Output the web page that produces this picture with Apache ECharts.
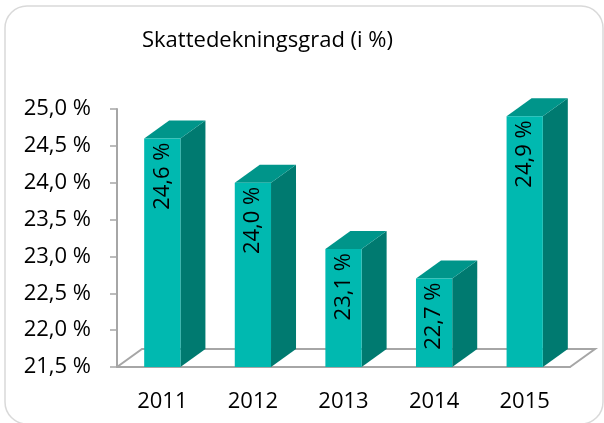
<!DOCTYPE html>
<html>
<head>
<meta charset="utf-8">
<script src="https://cdn.jsdelivr.net/npm/echarts@6/dist/echarts.min.js"></script>
<style>
  html, body { margin: 0; padding: 0; background: #fff; }
  #chart { width: 604px; height: 423px; }
</style>
</head>
<body>
<div id="chart"></div>
<script>
var titleText = 'Skattedekningsgrad (i %)';
var years = ['2011', '2012', '2013', '2014', '2015'];
var values = [24.6, 24.0, 23.1, 22.7, 24.9];
var yMin = 21.5;
var yMax = 25.0;
var yStep = 0.5;

var fmt = function (v) {
    return v.toFixed(1).replace('.', ',') + ' %';
};

// depth of the fake 3d boxes
var dx = 25, dy = -18;
var font = 'Open Sans';

var chartDom = document.getElementById('chart');
var myChart = echarts.init(chartDom);

function renderBar(params, api) {
    var i = api.value(0);
    var v = api.value(1);
    var top = api.coord([i, v]);
    var base = api.coord([i, yMin]);
    var w = api.size([1, 0])[0] * 0.4;
    var x0 = top[0] - w / 2, x1 = top[0] + w / 2;
    var y0 = top[1], y1 = base[1];
    var children = [];
    if (params.dataIndex === 0) {
        // floor of the 3d plot
        var cs = params.coordSys;
        var fl = cs.x, fr = cs.x + cs.width, fb = cs.y + cs.height;
        children.push({
            type: 'polyline',
            shape: { points: [[fl, fb], [fl + dx, fb + dy], [fr + dx, fb + dy], [fr, fb]] },
            style: { stroke: '#a6a6a6', lineWidth: 2, fill: null }
        });
    }
    children.push({
        type: 'polygon',
        shape: { points: [[x1, y0], [x1 + dx, y0 + dy], [x1 + dx, y1 + dy], [x1, y1]] },
        style: { fill: '#007a70' }
    });
    children.push({
        type: 'polygon',
        shape: { points: [[x0, y0], [x0 + dx, y0 + dy], [x1 + dx, y0 + dy], [x1, y0]] },
        style: { fill: '#00958a' }
    });
    children.push({
        type: 'rect',
        shape: { x: x0, y: y0, width: w, height: y1 - y0 },
        style: { fill: '#00b9b0' }
    });
    children.push({
        type: 'text',
        x: top[0],
        y: y0 + 4,
        rotation: Math.PI / 2,
        style: {
            text: fmt(v),
            x: 0, y: 0,
            align: 'right',
            verticalAlign: 'middle',
            fill: '#000',
            font: '22px "' + font + '"'
        }
    });
    return { type: 'group', children: children };
}

var option = {
    backgroundColor: '#fff',
    animation: false,
    title: {
        text: titleText,
        left: 137,
        top: 25,
        textStyle: { fontFamily: font, fontSize: 22, fontWeight: 'normal', color: '#000' }
    },
    graphic: [{
        type: 'rect',
        shape: { x: 5, y: 6, width: 598, height: 418, r: 22 },
        style: { fill: null, stroke: '#d9d9d9', lineWidth: 1.5 },
        z: -1
    }],
    grid: { left: 117, right: 34, top: 109, bottom: 56 },
    xAxis: {
        type: 'category',
        data: years,
        axisLine: { lineStyle: { color: '#a6a6a6', width: 2 } },
        axisTick: { length: 6, lineStyle: { color: '#a6a6a6', width: 1.5 } },
        axisLabel: { margin: 24, color: '#000', fontFamily: font, fontSize: 22 }
    },
    yAxis: {
        type: 'value',
        min: yMin,
        max: yMax,
        interval: yStep,
        axisLine: { show: true, lineStyle: { color: '#a6a6a6', width: 2 } },
        axisTick: { show: true, length: 7, lineStyle: { color: '#a6a6a6', width: 1.5 } },
        splitLine: { show: false },
        axisLabel: { margin: 26, color: '#000', fontFamily: font, fontSize: 22, formatter: fmt }
    },
    series: [{
        type: 'custom',
        renderItem: renderBar,
        encode: { x: 0, y: 1 },
        data: values.map(function (v, i) { return [i, v]; })
    }]
};

option && myChart.setOption(option);
</script>
</body>
</html>
